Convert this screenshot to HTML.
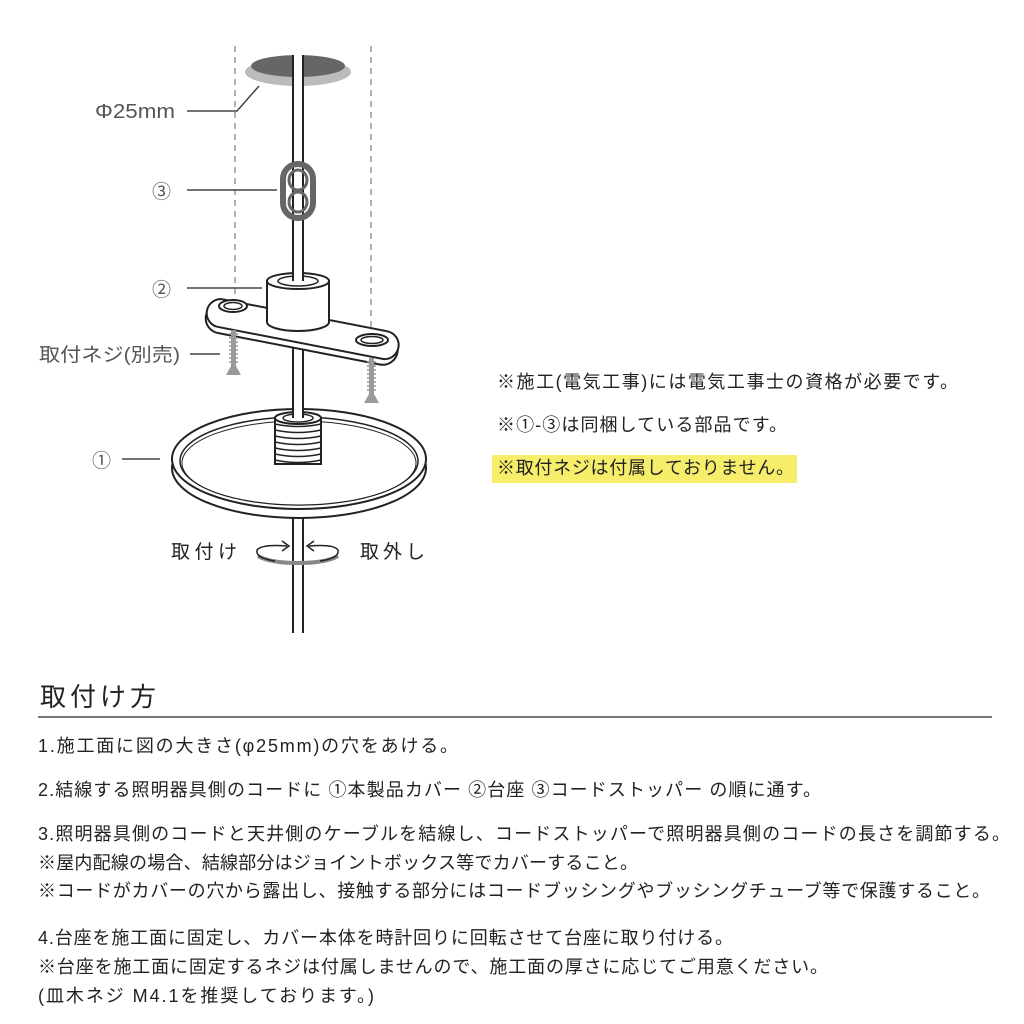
<!DOCTYPE html>
<html><head><meta charset="utf-8"><style>
html,body{margin:0;padding:0;background:#fff;}
svg{display:block;}
text{font-family:"Liberation Sans","Noto Sans CJK JP",sans-serif;}
</style></head><body>
<svg width="1024" height="1024" viewBox="0 0 1024 1024" xmlns="http://www.w3.org/2000/svg">
<line x1="235" y1="46" x2="235" y2="330" stroke="#999" stroke-width="1.5" stroke-dasharray="6,5"/>
<line x1="371" y1="46" x2="371" y2="360" stroke="#999" stroke-width="1.5" stroke-dasharray="6,5"/>
<ellipse cx="298" cy="72" rx="53" ry="14" fill="#bbb"/>
<ellipse cx="298" cy="66" rx="47" ry="11" fill="#666"/>
<rect x="293" y="55" width="10" height="578" fill="#fff"/>
<line x1="293" y1="55" x2="293" y2="633" stroke="#222" stroke-width="2"/>
<line x1="303" y1="55" x2="303" y2="633" stroke="#222" stroke-width="2"/>
<rect x="283" y="164" width="30" height="54" rx="15" fill="none" stroke="#666" stroke-width="6"/>
<ellipse cx="298" cy="180" rx="9" ry="10" fill="none" stroke="#666" stroke-width="3"/>
<ellipse cx="298" cy="202" rx="9" ry="10" fill="none" stroke="#666" stroke-width="3"/>
<g transform="rotate(11 302 330)">
<rect x="205" y="319" width="195" height="30" rx="15" fill="#fff" stroke="#222" stroke-width="2"/>
<rect x="205" y="315" width="195" height="28" rx="14" fill="#fff" stroke="#222" stroke-width="2"/>
</g>
<ellipse cx="233" cy="306" rx="14" ry="6" fill="#fff" stroke="#222" stroke-width="2"/>
<ellipse cx="233" cy="306" rx="9" ry="3.5" fill="none" stroke="#222" stroke-width="1.5"/>
<ellipse cx="372" cy="340" rx="16" ry="6" fill="#fff" stroke="#222" stroke-width="2"/>
<ellipse cx="372" cy="340" rx="11" ry="3.5" fill="none" stroke="#222" stroke-width="1.5"/>
<path d="M267 281 L267 322 A31 9 0 0 0 329 322 L329 281" fill="#fff" stroke="#222" stroke-width="2"/>
<ellipse cx="298" cy="281" rx="31" ry="8" fill="#fff" stroke="#222" stroke-width="2"/>
<ellipse cx="298" cy="281" rx="20" ry="5" fill="#fff" stroke="#222" stroke-width="1.5"/>
<rect x="293" y="255" width="10" height="26" fill="#fff"/>
<line x1="293" y1="255" x2="293" y2="281" stroke="#222" stroke-width="2"/>
<line x1="303" y1="255" x2="303" y2="281" stroke="#222" stroke-width="2"/>
<g fill="#999">
<rect x="231" y="330" width="5" height="38"/><polygon points="226,375 241,375 236,366 231,366"/>
<path d="M229 334h9M229 338h9M229 342h9M229 346h9M229 350h9M229 354h9M229 358h9M229 362h9" stroke="#999" stroke-width="1.5"/>
<rect x="369" y="358" width="5" height="38"/><polygon points="364,403 379,403 374,394 369,394"/>
<path d="M367 362h9M367 366h9M367 370h9M367 374h9M367 378h9M367 382h9M367 386h9M367 390h9" stroke="#999" stroke-width="1.5"/>
</g>
<ellipse cx="299" cy="468" rx="127" ry="50" fill="#fff" stroke="#222" stroke-width="2"/>
<ellipse cx="299" cy="459" rx="127" ry="50" fill="#fff" stroke="#222" stroke-width="2"/>
<ellipse cx="299" cy="461" rx="119" ry="44" fill="#fff" stroke="#222" stroke-width="1.5"/>
<ellipse cx="299" cy="463" rx="117" ry="42" fill="#fff" stroke="#222" stroke-width="1"/>
<rect x="275" y="418" width="46" height="46" fill="#fff" stroke="#222" stroke-width="2"/>
<g stroke="#222" stroke-width="1.5" fill="none">
<path d="M275 424 Q298 429 321 424M275 430 Q298 435 321 430M275 436 Q298 441 321 436M275 442 Q298 447 321 442M275 448 Q298 453 321 448M275 454 Q298 459 321 454M275 460 Q298 465 321 460"/>
</g>
<ellipse cx="298" cy="418" rx="23" ry="6" fill="#fff" stroke="#222" stroke-width="2"/>
<ellipse cx="298" cy="418" rx="15" ry="4" fill="#fff" stroke="#222" stroke-width="1.5"/>
<rect x="293" y="370" width="10" height="48" fill="#fff"/>
<line x1="293" y1="370" x2="293" y2="418" stroke="#222" stroke-width="2"/>
<line x1="303" y1="370" x2="303" y2="418" stroke="#222" stroke-width="2"/>
<rect x="293" y="519" width="10" height="10" fill="#fff"/>
<line x1="293" y1="518" x2="293" y2="530" stroke="#222" stroke-width="2"/>
<line x1="303" y1="518" x2="303" y2="530" stroke="#222" stroke-width="2"/>
<path d="M258 556 Q270 563 298 563 Q326 563 338 556" fill="none" stroke="#888" stroke-width="4"/>
<path d="M287 546 Q262 544 257 550 Q255 558 275 561 M320 561 Q340 558 338 550 Q334 544 309 546" fill="none" stroke="#222" stroke-width="1.5"/>
<path d="M282 541 L289 546 L282 551" fill="none" stroke="#222" stroke-width="1.5"/>
<path d="M314 541 L307 546 L314 551" fill="none" stroke="#222" stroke-width="1.5"/>
<g stroke="#444" stroke-width="1.5" fill="none">
<path d="M187 111 L237 111 L259 86"/>
<line x1="187" y1="190" x2="277" y2="190"/>
<line x1="187" y1="288" x2="262" y2="288"/>
<line x1="190" y1="354" x2="220" y2="354"/>
<line x1="122" y1="459" x2="160" y2="459"/>
</g>
<g fill="#555" font-size="19">
<text x="95" y="118" font-size="20" textLength="80" lengthAdjust="spacingAndGlyphs">Φ25mm</text>
<text x="152" y="198">③</text>
<text x="152" y="296">②</text>
<text x="39" y="361" textLength="141" lengthAdjust="spacingAndGlyphs">取付ネジ(別売)</text>
<text x="92" y="467">①</text>
</g>
<g fill="#222" font-size="19">
<text x="171" y="558" textLength="66">取付け</text>
<text x="360" y="558" textLength="65">取外し</text>
</g>
<rect x="492" y="455" width="305" height="28" fill="#f6ee6a"/>
<g fill="#222" font-size="18">
<text x="497" y="388" textLength="461">※施工(電気工事)には電気工事士の資格が必要です。</text>
<text x="497" y="431" textLength="290">※①-③は同梱している部品です。</text>
<text x="497" y="474" textLength="297">※取付ネジは付属しておりません。</text>
</g>
<text x="40" y="706" font-size="26" fill="#222" textLength="116">取付け方</text>
<line x1="38" y1="717" x2="992" y2="717" stroke="#777" stroke-width="2"/>
<g fill="#222" font-size="18">
<text x="38" y="752" textLength="420">1.施工面に図の大きさ(φ25mm)の穴をあける。</text>
<text x="38" y="796" textLength="783">2.結線する照明器具側のコードに ①本製品カバー ②台座 ③コードストッパー の順に通す。</text>
<text x="38" y="840" textLength="972">3.照明器具側のコードと天井側のケーブルを結線し、コードストッパーで照明器具側のコードの長さを調節する。</text>
<text x="38" y="869" textLength="600">※屋内配線の場合、結線部分はジョイントボックス等でカバーすること。</text>
<text x="38" y="897" textLength="952">※コードがカバーの穴から露出し、接触する部分にはコードブッシングやブッシングチューブ等で保護すること。</text>
<text x="38" y="944" textLength="695">4.台座を施工面に固定し、カバー本体を時計回りに回転させて台座に取り付ける。</text>
<text x="38" y="973" textLength="790">※台座を施工面に固定するネジは付属しませんので、施工面の厚さに応じてご用意ください。</text>
<text x="38" y="1002" textLength="336">(皿木ネジ M4.1を推奨しております。)</text>
</g>
</svg>
</body></html>
